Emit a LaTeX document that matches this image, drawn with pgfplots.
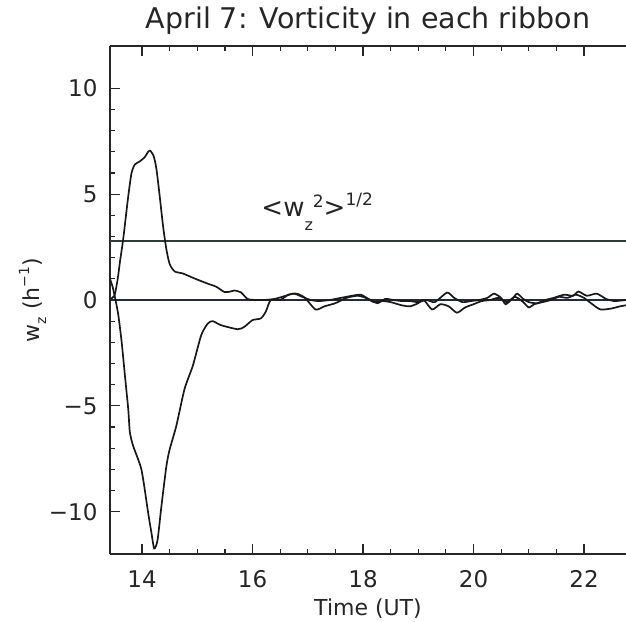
\documentclass[border=0pt]{standalone}
\usepackage{fontspec}
\setmainfont{DejaVu Sans}
\usepackage{pgfplots}
\pgfplotsset{compat=1.18}
\definecolor{zeroline}{RGB}{35,42,62}
\definecolor{rmsline}{RGB}{45,62,58}
\definecolor{curve}{RGB}{25,25,25}
\begin{document}
\begin{tikzpicture}
\begin{axis}[
  scale only axis,
  width=516pt, height=508pt,
  xmin=13.42, xmax=22.76,
  ymin=-12, ymax=12,
  axis x line=box, axis y line*=left,
  axis line style={line width=1.4pt, black!85},
  tick align=inside,
  major tick length=10pt, minor tick length=5pt,
  every tick/.style={line width=1.2pt, black!85},
  xtick={14,16,18,20,22},
  minor x tick num=3,
  ytick={-10,-5,0,5,10},
  yticklabels={−10,−5,0,5,10},
  minor y tick num=4,
  /pgf/number format/assume math mode=true,
  tick label style={font=\fontsize{23}{25}\selectfont, black!85},
  xticklabel style={yshift=-13pt},
  yticklabel style={xshift=-9pt},
  title={April 7: Vorticity in each ribbon},
  title style={font=\fontsize{28.5}{30}\selectfont, black!85, at={(0.5,1)}, anchor=base, yshift=11pt},
  xlabel={Time (UT)},
  xlabel style={font=\fontsize{22}{24}\selectfont, black!85, yshift=-4pt},
  ylabel={w\raisebox{-7pt}{\fontsize{14}{14}\selectfont z} (h\raisebox{10pt}{\fontsize{14}{14}\selectfont −1})},
  ylabel style={font=\fontsize{22}{24}\selectfont, black!85, yshift=-4pt},
]
% rms level
\addplot[rmsline, line width=1.6pt] coordinates {(13.42,2.8) (22.76,2.8)};
% zero level
\addplot[zeroline, line width=1.7pt] coordinates {(13.42,0) (22.76,0)};
% positive ribbon
\addplot[curve, line width=1.7pt, smooth, tension=0.4] coordinates {
(13.42,0.05) (13.50,0.2) (13.56,1.0) (13.60,1.8) (13.66,2.9) (13.75,4.9)
(13.81,6.0) (13.87,6.4) (13.96,6.55) (14.05,6.75) (14.11,7.0) (14.15,7.05)
(14.21,6.8) (14.26,6.2) (14.32,4.9) (14.38,3.5) (14.44,2.4) (14.50,1.7)
(14.59,1.35) (14.74,1.25) (14.92,1.05) (15.16,0.8) (15.34,0.63) (15.49,0.38)
(15.60,0.4) (15.67,0.45) (15.79,0.36) (15.91,0.05) (16.05,0.0) (16.20,0.0)
(16.40,0.05) (16.60,0.2) (16.75,0.3) (16.90,0.15) (17.05,0.0) (17.20,-0.05)
(17.40,0.0) (17.60,0.1) (17.80,0.2) (17.96,0.25) (18.10,0.05) (18.26,-0.15)
(18.40,0.05) (18.55,0.0) (18.70,-0.05) (18.85,-0.05) (19.00,-0.1) (19.15,0.0)
(19.30,-0.1) (19.52,0.35) (19.65,0.1) (19.80,-0.1) (19.95,-0.05) (20.10,0.0)
(20.25,0.1) (20.37,0.3) (20.50,0.1) (20.58,-0.2) (20.70,0.05) (20.79,0.3)
(20.90,0.05) (21.00,-0.1) (21.15,-0.15) (21.30,0.0) (21.45,0.1) (21.64,0.25)
(21.80,0.2) (21.90,0.4) (22.05,0.2) (22.23,0.3) (22.40,0.05) (22.55,-0.05)
(22.76,0.0)};
% negative ribbon
\addplot[curve, line width=1.7pt, smooth, tension=0.4] coordinates {
(13.42,1.0) (13.47,0.6) (13.52,0.0) (13.57,-0.7) (13.63,-1.96) (13.69,-3.57)
(13.75,-5.15) (13.78,-6.26) (13.84,-6.9) (13.93,-7.53) (13.99,-8.02) (14.05,-8.97)
(14.11,-10.05) (14.17,-11.0) (14.22,-11.74) (14.28,-11.35) (14.35,-9.76) (14.44,-7.86)
(14.50,-7.06) (14.62,-5.95) (14.77,-4.2) (14.92,-3.1) (15.07,-1.67) (15.19,-1.11)
(15.28,-1.0) (15.43,-1.19) (15.73,-1.38) (15.85,-1.27) (16.00,-0.95) (16.15,-0.87)
(16.24,-0.55) (16.33,0.0) (16.50,0.0) (16.65,0.25) (16.80,0.3) (16.95,0.1)
(17.14,-0.45) (17.30,-0.3) (17.50,-0.15) (17.70,0.1) (17.90,0.2) (18.05,0.1)
(18.20,-0.1) (18.35,-0.05) (18.50,-0.1) (18.70,-0.25) (18.85,-0.3) (19.00,-0.15)
(19.10,0.0) (19.25,-0.45) (19.40,-0.2) (19.55,-0.3) (19.70,-0.6) (19.85,-0.35)
(20.00,-0.2) (20.15,-0.05) (20.30,0.0) (20.45,0.1) (20.60,-0.1) (20.75,0.15)
(20.90,-0.1) (21.00,-0.35) (21.10,-0.2) (21.25,-0.1) (21.40,0.0) (21.55,0.15)
(21.70,0.1) (21.85,0.25) (22.00,0.1) (22.15,-0.2) (22.30,-0.45) (22.50,-0.4)
(22.65,-0.3) (22.76,-0.25)};
\node[font=\fontsize{26}{28}\selectfont, black!85, anchor=base] at (axis cs:17.17,3.95)
  {<w\raisebox{-14pt}{\fontsize{16}{16}\selectfont z}\raisebox{9pt}{\fontsize{17}{17}\selectfont 2}>\raisebox{11pt}{\fontsize{17}{17}\selectfont 1/2}};
\end{axis}
\pgfresetboundingbox
\useasboundingbox ([xshift=-110pt,yshift=-68pt]current axis.south west) rectangle ([yshift=46pt]current axis.north east);
\end{tikzpicture}
\end{document}
